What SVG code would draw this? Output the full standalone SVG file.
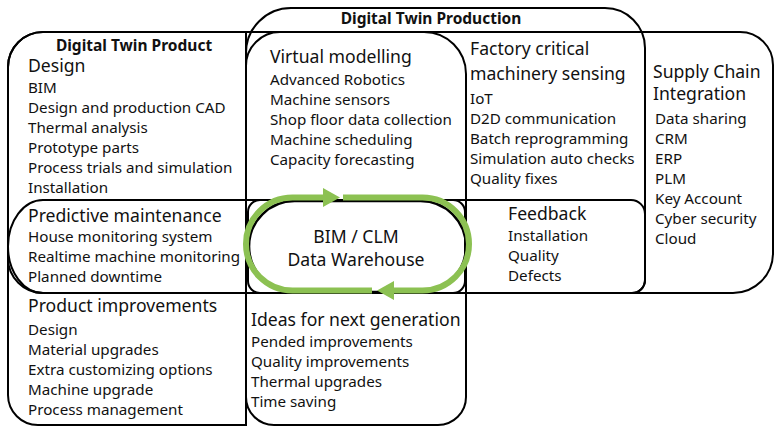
<svg xmlns="http://www.w3.org/2000/svg" width="775" height="428" viewBox="0 0 775 428">
<style>
.box{fill:none;stroke:#000;stroke-width:2}
.loop{fill:none;stroke:#000;stroke-width:2.6}
.g{fill:none;stroke:#8cc152;stroke-width:6}
text{font-family:"Noto Sans","DejaVu Sans",sans-serif;fill:#111}
.h{font-size:17.6px}
.i{font-size:15.2px}
.b{font-size:15.5px;font-weight:bold}
</style>
<defs>
<marker id="ah" markerUnits="userSpaceOnUse" markerWidth="18" markerHeight="20" refX="0" refY="9.5" orient="auto">
<path d="M0,0 L17,9.5 L0,19 Z" fill="#8cc152"/>
</marker>
</defs>
<rect width="775" height="428" fill="#fff"/>
<g id="supply-chain">
<path class="box" d="M43 32 H740 A33 33 0 0 1 773 65 V253 A40 40 0 0 1 733 293 H43 A35 35 0 0 1 8 258 V67 A35 35 0 0 1 43 32 Z"/>
<text class="h" x="653" y="78">Supply Chain</text>
<text class="h" x="653" y="100">Integration</text>
<text class="i" x="655" y="124">Data sharing</text>
<text class="i" x="655" y="144">CRM</text>
<text class="i" x="655" y="164">ERP</text>
<text class="i" x="655" y="184">PLM</text>
<text class="i" x="655" y="204">Key Account</text>
<text class="i" x="655" y="224">Cyber security</text>
<text class="i" x="655" y="244">Cloud</text>
</g>
<g id="digital-twin-product">
<path class="box" d="M43 32 H246 V425 H38 A30 30 0 0 1 8 395 V67 A35 35 0 0 1 43 32 Z"/>
<text class="b" x="134" y="51" text-anchor="middle">Digital Twin Product</text>
<text class="h" x="28" y="72">Design</text>
<text class="i" x="28" y="93">BIM</text>
<text class="i" x="28" y="113">Design and production CAD</text>
<text class="i" x="28" y="133">Thermal analysis</text>
<text class="i" x="28" y="153">Prototype parts</text>
<text class="i" x="28" y="173">Process trials and simulation</text>
<text class="i" x="28" y="193">Installation</text>
</g>
<g id="digital-twin-production">
<path class="box" d="M291 8 H605 A40 40 0 0 1 645 48 V280 A13 13 0 0 1 632 293 H246 V53 A45 45 0 0 1 291 8 Z"/>
<text class="b" x="431" y="24" text-anchor="middle">Digital Twin Production</text>
</g>
<g id="virtual-modelling">
<path class="box" d="M280 32 H424 A42 42 0 0 1 466 74 V397 A28 28 0 0 1 438 425 H274 A28 28 0 0 1 246 397 V66 A34 34 0 0 1 280 32 Z"/>
<text class="h" x="270" y="63">Virtual modelling</text>
<text class="i" x="270" y="85">Advanced Robotics</text>
<text class="i" x="270" y="105">Machine sensors</text>
<text class="i" x="270" y="125">Shop floor data collection</text>
<text class="i" x="270" y="145">Machine scheduling</text>
<text class="i" x="270" y="165">Capacity forecasting</text>
</g>
<g id="factory-sensing">
<text class="h" x="470" y="55">Factory critical</text>
<text class="h" x="470" y="80">machinery sensing</text>
<text class="i" x="470" y="104">IoT</text>
<text class="i" x="470" y="124">D2D communication</text>
<text class="i" x="470" y="144">Batch reprogramming</text>
<text class="i" x="470" y="164">Simulation auto checks</text>
<text class="i" x="470" y="184">Quality fixes</text>
</g>
<g id="predictive-maintenance">
<path class="box" d="M43 200 H631 A14 14 0 0 1 645 214 V280 A13 13 0 0 1 632 293 H43 A35 46.5 0 0 1 43 200 Z"/>
<text class="h" x="28" y="222">Predictive maintenance</text>
<text class="i" x="28" y="242">House monitoring system</text>
<text class="i" x="28" y="262">Realtime machine monitoring</text>
<text class="i" x="28" y="282">Planned downtime</text>
</g>
<g id="feedback">
<text class="h" x="508" y="220">Feedback</text>
<text class="i" x="508" y="241">Installation</text>
<text class="i" x="508" y="261">Quality</text>
<text class="i" x="508" y="281">Defects</text>
</g>
<g id="product-improvements">
<text class="h" x="28" y="312">Product improvements</text>
<text class="i" x="28" y="335">Design</text>
<text class="i" x="28" y="355">Material upgrades</text>
<text class="i" x="28" y="375">Extra customizing options</text>
<text class="i" x="28" y="395">Machine upgrade</text>
<text class="i" x="28" y="415">Process management</text>
</g>
<g id="ideas-next-generation">
<text class="h" x="251" y="326">Ideas for next generation</text>
<text class="i" x="251" y="347">Pended improvements</text>
<text class="i" x="251" y="367">Quality improvements</text>
<text class="i" x="251" y="387">Thermal upgrades</text>
<text class="i" x="251" y="407">Time saving</text>
</g>
<g id="data-warehouse">
<rect class="box" x="248" y="200" width="217" height="93" rx="12"/>
<rect class="loop" x="249" y="201" width="217" height="91" rx="45.5"/>
<text class="h" x="356" y="243" text-anchor="middle">BIM / CLM</text>
<text class="h" x="356" y="266" text-anchor="middle">Data Warehouse</text>
</g>
<g id="connectors">
<path class="g" d="M372 290.5 H292.5 A46.5 46.5 0 0 1 292.5 197.5 H323" marker-end="url(#ah)"/>
<path class="g" d="M343 197.5 H422.5 A46.5 46.5 0 0 1 422.5 290.5 H394" marker-end="url(#ah)"/>
</g>
</svg>
